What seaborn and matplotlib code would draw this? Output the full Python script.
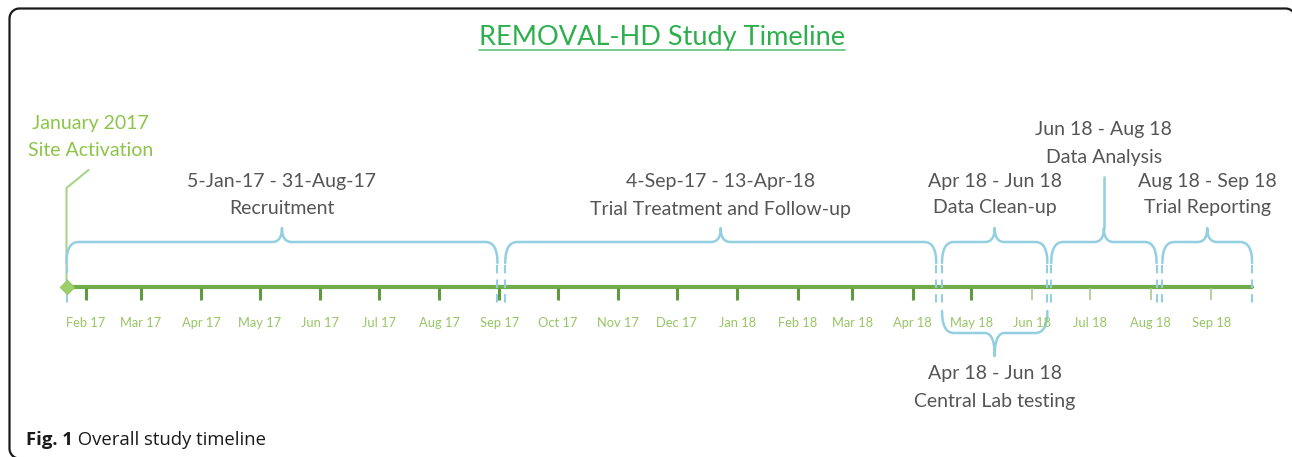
import numpy as np
import pandas as pd
import matplotlib
matplotlib.use("Agg")
import matplotlib.pyplot as plt
import matplotlib.dates as mdates
import seaborn as sns

# ---------------- data ----------------
title = "REMOVAL-HD Study Timeline"
milestone_date = ["January 2017", "Site Activation"]
timeline_start = "2017-01-22"   # visible start of the timeline bar
timeline_end = "2018-09-22"
tick_labels = ["Feb 17", "Mar 17", "Apr 17", "May 17", "Jun 17", "Jul 17", "Aug 17",
               "Sep 17", "Oct 17", "Nov 17", "Dec 17", "Jan 18", "Feb 18", "Mar 18",
               "Apr 18", "May 18", "Jun 18", "Jul 18", "Aug 18", "Sep 18"]
phase_names = ["Recruitment", "Trial Treatment and Follow-up", "Data Clean-up",
               "Data Analysis", "Trial Reporting", "Central Lab testing"]
phase_ranges = ["5-Jan-17 - 31-Aug-17", "4-Sep-17 - 13-Apr-18", "Apr 18 - Jun 18",
                "Jun 18 - Aug 18", "Aug 18 - Sep 18", "Apr 18 - Jun 18"]
phase_start = ["2017-01-05", "2017-09-04", "2018-04-16", "2018-06-11", "2018-08-07", "2018-04-16"]
phase_end = ["2017-08-31", "2018-04-13", "2018-06-09", "2018-08-04", "2018-09-22", "2018-06-09"]
caption_bold = "Fig. 1"
caption_text = " Overall study timeline"

# ---------------- style ----------------
sns.set_theme(style="white")
plt.rcParams["font.family"] = ["Lato", "DejaVu Sans"]

W, H = 1292, 457
PX = 1.95  # pixels per day
fig = plt.figure(figsize=(W / 100, H / 100), dpi=100)
ax = fig.add_axes([0, 0, 1, 1])
ref = mdates.date2num(pd.Timestamp("2017-02-01"))
ax.set_xlim(ref - 86 / PX, ref + (W - 86) / PX)
ax.set_ylim(H, 0)
ax.axis("off")

d = lambda s: mdates.date2num(pd.Timestamp(s))
t0, t1 = d(timeline_start), d(timeline_end)

GREEN_T = "#2eaf4d"
GREEN_L = "#8dc449"
GREEN_AX = "#72ad4c"
GREEN_TK = "#5f9b3c"
BLUE = "#93cfe0"
GRAY = "#555555"
FS = 14

# frame (pixel coordinates, figure space)
def arc(cx, cy, r, a0, a1, n=20):
    a = np.radians(np.linspace(a0, a1, n))
    return cx + r * np.cos(a), cy - r * np.sin(a)

R = 10
L, T, Rt, B = 9.5, 8.5, 1295.5, 458.5
xs, ys = [], []
ax_, ay_ = arc(L + R, B - R, R, 270, 180)
xs += list(ax_); ys += list(ay_)
ax_, ay_ = arc(L + R, T + R, R, 180, 90)
xs += list(ax_); ys += list(ay_)
ax_, ay_ = arc(Rt - R, T + R, R, 90, 0)
xs += list(ax_); ys += list(ay_)
xs += [Rt]; ys += [B]
fig.add_artist(plt.Line2D(np.array(xs) / W, 1 - np.array(ys) / H, transform=fig.transFigure,
                          color="#1a1a1a", lw=1.6))

# title
ttl = ax.text(662 / W, 1 - 38 / H, title, transform=ax.transAxes, ha="center", va="center",
              fontsize=19.5, color=GREEN_T)
fig.canvas.draw()
tb = ttl.get_window_extent()
ax.plot([tb.x0 / W, tb.x1 / W], [1 - 50 / H, 1 - 50 / H], transform=ax.transAxes,
        color="#5cc27a", lw=1.2)

# main axis line
line_df = pd.DataFrame({"x": [t0, t1], "y": [287, 287]})
sns.lineplot(data=line_df, x="x", y="y", ax=ax, color=GREEN_AX, lw=3, legend=False)

# ticks
tick_dates = [d(pd.to_datetime(t, format="%b %y")) for t in tick_labels]
for i, (td, lab) in enumerate(zip(tick_dates, tick_labels)):
    light = i >= 16
    ax.plot([td, td], [288, 300], color="#a8c98f" if light else GREEN_TK,
            lw=1.2 if light else 2.2, solid_capstyle="butt")
    ax.text(td, 323, lab, ha="center", va="center", fontsize=9.3, color="#97c565")

# milestone
ax.plot([t0, t0, t0 + 22 / PX], [287, 188, 170], color="#a9d48a", lw=1.5)
sns.scatterplot(x=[t0], y=[287], marker="D", s=55, color="#9ccf6a", ax=ax,
                edgecolor="#8cc25a", zorder=5, legend=False)
ax.text(t0 + 24 / PX, 124, milestone_date[0], ha="center", va="center",
        fontsize=14, color=GREEN_L)
ax.text(t0 + 24 / PX, 151, milestone_date[1], ha="center", va="center",
        fontsize=14, color=GREEN_L)


def qbez(p0, p1, p2, n=20):
    t = np.linspace(0, 1, n)[:, None]
    return (1 - t) ** 2 * np.array(p0) + 2 * (1 - t) * t * np.array(p1) + t ** 2 * np.array(p2)


def brace(x0, x1, yb, yt, yp, r=12, rp=10, stem=None):
    rd, rpd = r / PX, rp / PX
    m = (x0 + x1) / 2
    pts = [qbez((x0, yb), (x0, yt), (x0 + rd, yt)),
           np.array([[x0 + rd, yt], [m - rpd, yt]]),
           qbez((m - rpd, yt), (m, yt), (m, yp)),
           qbez((m, yp), (m, yt), (m + rpd, yt)),
           np.array([[m + rpd, yt], [x1 - rd, yt]]),
           qbez((x1 - rd, yt), (x1, yt), (x1, yb))]
    P = np.vstack(pts)
    ax.plot(P[:, 0], P[:, 1], color=BLUE, lw=1.8, solid_capstyle="round")
    if stem is not None:
        ax.plot([m, m], [yp, stem], color=BLUE, lw=1.8)
    return m


label_y = [(182, 208), (181, 209), (182, 208), (130, 158), (182, 208)]
for i in range(5):
    x0 = max(d(phase_start[i]), t0)
    x1 = d(phase_end[i])
    m = brace(x0, x1, 263, 242, 228, stem=177 if i == 3 else None)
    for xx in (x0, x1):
        ax.plot([xx, xx], [265, 306], color=BLUE, lw=1.5, ls=(0, (4, 3)))
    ax.text(m, label_y[i][0], phase_ranges[i], ha="center", va="center", fontsize=FS, color=GRAY)
    ax.text(m, label_y[i][1], phase_names[i], ha="center", va="center", fontsize=FS, color=GRAY)

# bottom brace (central lab)
x0, x1 = d(phase_start[5]), d(phase_end[5])
m = brace(x0, x1, 311, 333, 356)
ax.text(m, 374, phase_ranges[5], ha="center", va="center", fontsize=FS, color=GRAY)
ax.text(m, 402, phase_names[5], ha="center", va="center", fontsize=FS, color=GRAY)

# caption
cap = ax.text(26 / W, 1 - 440 / H, caption_bold, transform=ax.transAxes, ha="left", va="center",
              fontsize=13.3, fontweight="bold", color="#1a1a1a", family=["Open Sans", "DejaVu Sans"])
fig.canvas.draw()
bb = cap.get_window_extent()
ax.text(bb.x1 / W, 1 - 440 / H, caption_text, transform=ax.transAxes, ha="left", va="center",
        fontsize=13.3, color="#1a1a1a", family=["Open Sans", "DejaVu Sans"])

fig.savefig("out.png", dpi=100)
